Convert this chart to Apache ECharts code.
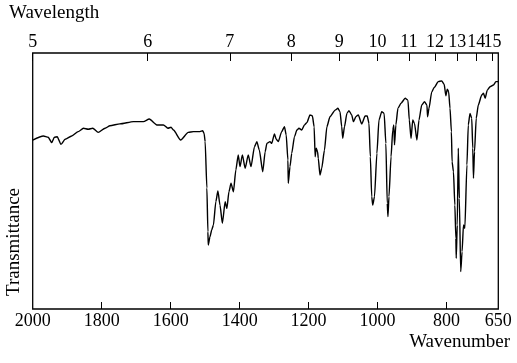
<!DOCTYPE html>
<html>
<head>
<meta charset="utf-8">
<script src="https://cdn.jsdelivr.net/npm/echarts@6/dist/echarts.min.js"></script>
<style>
html,body{margin:0;padding:0;background:#fff;}
#chart{width:517px;height:363px;}
</style>
</head>
<body>
<div id="chart"></div>
<script>
// Wavenumber (cm^-1) of traced points
const wavenumber = [2000,1969,1955,1945,1937,1929,1918,1906,1887,1868,1853,1839,1826,1810,1790,1776,1747,1708,1679,1662,1640,1621,1608,1599,1592,1571,1549,1534,1515,1507,
1503,1500,1495,1492,1491,1486,1481,1476,1469,1463,1457,1450,1442,1437,1431,1425,1418,1411,1404,1399,1392,1384,1375,1367,1357,1350,1343,1333,1326,1321,
1312,1307,1299,1294,1288,1278,1270,1265,1260,1259,1254,1249,1241,1234,1228,1220,1212,1205,1196,1189,1184,1181,1178,1174,1172,1167,1162,1154,1147,1138,
1123,1115,1109,1104,1101,1096,1089,1083,1075,1070,1063,1056,1046,1036,1030,1025,1021,1017,1014,1009,1002,996,988,981,976,972,970,967,961,956,
953,951,947,941,932,920,912,908,903,898,893,886,880,872,864,857,855,851,843,836,824,814,807,802,798,794,790,786,784,780,
776,773,772,769,766,763,759,755,751,747,741,737,732,727,724,722,719,714,708,698,693,688,682,674,664,657,650];
// Transmittance (relative %, 0 = bottom of frame, 100 = top)
const transmittance = [66.0,67.6,67.1,65.0,67.1,67.3,64.3,66.3,67.6,69.3,70.6,70.2,70.6,69.0,70.6,71.6,72.3,73.2,73.2,74.2,71.9,71.9,70.6,71.0,69.9,66.0,69.0,69.3,69.3,69.6,
68.6,65.4,47.3,30.2,25.0,28.2,30.9,32.8,41.9,46.1,40.6,33.5,41.9,39.3,45.8,49.1,45.8,54.3,60.2,55.6,60.2,55.0,60.2,55.6,63.4,65.4,62.1,53.6,61.4,64.7,
65.4,64.7,68.4,66.3,65.4,69.3,71.2,68.0,58.2,49.1,55.6,60.8,67.3,69.9,70.6,69.9,71.9,72.8,75.8,75.4,71.2,59.5,62.8,61.4,58.9,52.3,55.0,62.1,71.2,75.1,
77.7,78.4,77.1,71.2,66.7,71.2,76.4,77.5,75.8,73.2,75.1,75.8,72.3,75.4,75.4,72.5,59.5,43.9,40.6,43.9,60.8,73.8,77.1,76.4,64.7,41.3,36.1,43.9,59.5,69.9,
71.9,64.1,71.9,78.4,80.4,82.3,81.6,73.8,66.7,73.8,72.5,66.0,73.8,79.7,81.0,79.7,75.1,78.4,84.8,86.5,88.8,89.1,87.8,83.3,85.9,84.9,78.4,69.3,57.5,53.6,
40.6,27.6,19.8,32.8,62.8,43.2,14.6,22.4,32.8,31.5,56.3,71.9,76.4,74.5,62.8,51.1,61.4,74.5,79.7,83.6,84.3,82.3,85.5,86.8,87.5,88.8,88.8];
// Bottom axis tick labels (wavenumber)
const wavenumberLabels = [2000,1800,1600,1400,1200,1000,800,650];
const wavenumberTicks = [1800,1600,1400,1200,1000,800];
// Top axis tick labels (wavelength, micrometres)
const wavelengthLabels = [5,6,7,8,9,10,11,12,13,14,15];

const FONT = 'Liberation Serif';
const wlPos = wavelengthLabels.map(l => 10000 / l);
// split alternate labels over two coincident top axes so none get auto-hidden
const wlPosA = wlPos.filter((_, i) => i % 2 === 0);
const wlPosB = wlPos.filter((_, i) => i % 2 === 1);
const data = wavenumber.map((w, i) => [w, transmittance[i]]);

function topAxis(vals) {
  return {
    type: 'value', position: 'top', min: 650, max: 2000, inverse: true,
    axisLine: {show: false}, splitLine: {show: false},
    axisTick: {show: true, inside: true, length: 8, customValues: vals, lineStyle: {color: '#000', width: 1}},
    axisLabel: {show: true, customValues: vals, margin: 2, color: '#000', fontFamily: FONT, fontSize: 18,
      hideOverlap: false, showMinLabel: true, showMaxLabel: true,
      formatter: v => String(Math.round(10000 / v))}
  };
}

const chart = echarts.init(document.getElementById('chart'), null, {renderer: 'canvas'});
chart.setOption({
  animation: false,
  backgroundColor: '#fff',
  grid: {left: 32.7, right: 18.7, top: 53, bottom: 54, show: true, borderColor: '#000', borderWidth: 1.3, backgroundColor: 'transparent'},
  xAxis: [
    {
      type: 'value', position: 'bottom', min: 650, max: 2000, inverse: true,
      axisLine: {show: false}, splitLine: {show: false},
      axisTick: {show: true, inside: true, length: 7, customValues: wavenumberTicks, lineStyle: {color: '#000', width: 1}},
      axisLabel: {show: true, customValues: wavenumberLabels, margin: 3, color: '#000', fontFamily: FONT, fontSize: 18,
        hideOverlap: false, showMinLabel: true, showMaxLabel: true,
        formatter: v => String(v)}
    },
    topAxis(wlPosA),
    topAxis(wlPosB)
  ],
  yAxis: {
    type: 'value', min: 0, max: 100,
    axisLine: {show: false}, axisTick: {show: false}, axisLabel: {show: false}, splitLine: {show: false}
  },
  graphic: [
    {type: 'text', x: 9, y: 13, style: {text: 'Wavelength', fill: '#000', font: '19px "Liberation Serif"', textAlign: 'left', textVerticalAlign: 'middle'}},
    {type: 'text', x: 510, y: 342, style: {text: 'Wavenumber', fill: '#000', font: '19px "Liberation Serif"', textAlign: 'right', textVerticalAlign: 'middle'}},
    {type: 'text', x: 14, y: 242, rotation: Math.PI / 2, style: {text: 'Transmittance', fill: '#000', font: '19px "Liberation Serif"', textAlign: 'center', textVerticalAlign: 'middle'}}
  ],
  series: [{
    type: 'line', xAxisIndex: 0, data: data, showSymbol: false, symbol: 'none',
    smooth: 0.2, smoothMonotone: 'x',
    lineStyle: {color: '#000', width: 1.4}
  }]
});
</script>
</body>
</html>
